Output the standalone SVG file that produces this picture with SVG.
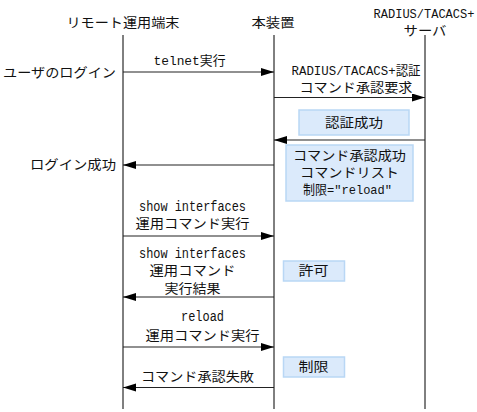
<svg xmlns="http://www.w3.org/2000/svg" width="477" height="412" viewBox="0 0 477 412">
<style>
text{font-family:"Liberation Mono","Noto Sans CJK JP",monospace;font-size:13px;fill:#111;}
.c{text-anchor:middle;}
.e{text-anchor:end;}
.l{font-size:14px;}
.life{stroke:#000;stroke-width:1;}
.msg{stroke:#222;stroke-width:1.2;fill:none;}
.note{fill:#dbeafb;stroke:#b9d7f5;stroke-width:1.5;}
</style>
<defs>
<marker id="ah" markerUnits="userSpaceOnUse" markerWidth="13" markerHeight="9" refX="13" refY="4" orient="auto">
<path d="M0,0 L13,4 L0,8 z" fill="#000"/>
</marker>
</defs>
<rect width="477" height="412" fill="#fff"/>
<g id="node-remote">
<text class="c" x="123" y="27" textLength="113" lengthAdjust="spacingAndGlyphs">リモート運用端末</text>
<line class="life" x1="123" y1="35" x2="123" y2="409"/>
</g>
<g id="node-device">
<text class="c" x="273" y="27" textLength="43" lengthAdjust="spacingAndGlyphs">本装置</text>
<line class="life" x1="274" y1="35" x2="274" y2="409"/>
</g>
<g id="node-server">
<text class="c" x="424" y="17.5" style="font-size:12px">RADIUS/TACACS+</text>
<text class="c" x="425" y="35" textLength="43" lengthAdjust="spacingAndGlyphs">サーバ</text>
<line class="life" x1="425" y1="35" x2="425" y2="409"/>
</g>
<g id="labels-left">
<text class="e" x="116" y="77" textLength="113" lengthAdjust="spacingAndGlyphs">ユーザのログイン</text>
<text class="e" x="116" y="169" textLength="86" lengthAdjust="spacingAndGlyphs">ログイン成功</text>
</g>
<g id="note-auth">
<rect class="note" x="299" y="110" width="110" height="25"/>
<text class="c" x="354" y="127" textLength="58" lengthAdjust="spacingAndGlyphs">認証成功</text>
</g>
<g id="note-cmdlist">
<rect class="note" x="286" y="145" width="127" height="56"/>
<text class="c" x="349.5" y="160" textLength="113" lengthAdjust="spacingAndGlyphs">コマンド承認成功</text>
<text class="c" x="349.5" y="177" textLength="99" lengthAdjust="spacingAndGlyphs">コマンドリスト</text>
<text class="c" x="347.5" y="194" textLength="89" lengthAdjust="spacingAndGlyphs">制限="reload"</text>
</g>
<g id="note-allow">
<rect class="note" x="283.5" y="261" width="61" height="20"/>
<text class="c" x="313.5" y="275" textLength="30" lengthAdjust="spacingAndGlyphs">許可</text>
</g>
<g id="note-restrict">
<rect class="note" x="283.5" y="357" width="61" height="20"/>
<text class="c" x="313.5" y="371" textLength="30" lengthAdjust="spacingAndGlyphs">制限</text>
</g>
<g id="connectors">
<line class="msg" x1="123" y1="72" x2="274" y2="72" marker-end="url(#ah)"/>
<text class="c" x="189.5" y="65" textLength="72" lengthAdjust="spacingAndGlyphs">telnet実行</text>
<line class="msg" x1="274" y1="97.5" x2="425" y2="97.5" marker-end="url(#ah)"/>
<text class="c" x="356" y="75" textLength="129" lengthAdjust="spacingAndGlyphs">RADIUS/TACACS+認証</text>
<text class="c" x="356" y="92" textLength="113" lengthAdjust="spacingAndGlyphs">コマンド承認要求</text>
<line class="msg" x1="425" y1="140" x2="274" y2="140" marker-end="url(#ah)"/>
<line class="msg" x1="274" y1="165" x2="123" y2="165" marker-end="url(#ah)"/>
<line class="msg" x1="123" y1="236" x2="274" y2="236" marker-end="url(#ah)"/>
<text class="c l" x="192.5" y="211" textLength="107" lengthAdjust="spacingAndGlyphs">show interfaces</text>
<text class="c" x="192.5" y="228" textLength="114" lengthAdjust="spacingAndGlyphs">運用コマンド実行</text>
<line class="msg" x1="274" y1="297" x2="123" y2="297" marker-end="url(#ah)"/>
<text class="c l" x="192.5" y="258" textLength="107" lengthAdjust="spacingAndGlyphs">show interfaces</text>
<text class="c" x="192.5" y="275" textLength="86" lengthAdjust="spacingAndGlyphs">運用コマンド</text>
<text class="c" x="192.5" y="293" textLength="56" lengthAdjust="spacingAndGlyphs">実行結果</text>
<line class="msg" x1="123" y1="347" x2="274" y2="347" marker-end="url(#ah)"/>
<text class="c l" x="202.5" y="321" textLength="43" lengthAdjust="spacingAndGlyphs">reload</text>
<text class="c" x="202.5" y="340" textLength="114" lengthAdjust="spacingAndGlyphs">運用コマンド実行</text>
<line class="msg" x1="274" y1="387.5" x2="123" y2="387.5" marker-end="url(#ah)"/>
<text class="c" x="197.5" y="381" textLength="113" lengthAdjust="spacingAndGlyphs">コマンド承認失敗</text>
</g>
</svg>
